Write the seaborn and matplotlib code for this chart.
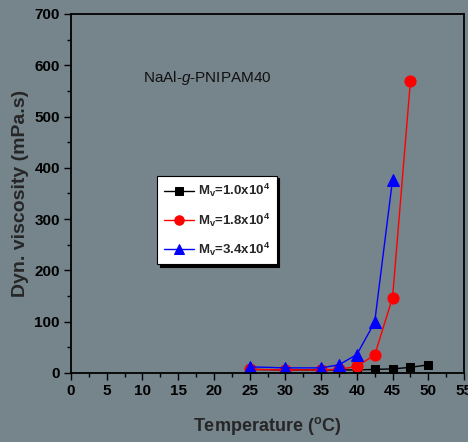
import matplotlib
matplotlib.use("Agg")
import matplotlib.pyplot as plt
import seaborn as sns
import pandas as pd
import numpy as np
from matplotlib.ticker import MultipleLocator

temps_1 = [25, 30, 35, 37.5, 40, 42.5, 45, 47.5, 50]
visc_1 = [7, 6, 6, 6, 6, 7, 8, 11, 16]
temps_2 = [25, 30, 35, 37.5, 40, 42.5, 45, 47.5]
visc_2 = [7, 6, 6, 7, 13, 35, 147, 569]
temps_3 = [25, 30, 35, 37.5, 40, 42.5, 45]
visc_3 = [12, 10, 10, 16, 36, 99, 377]

labels = [r"$\mathbf{M_v}$=1.0x10$^\mathbf{4}$",
          r"$\mathbf{M_v}$=1.8x10$^\mathbf{4}$",
          r"$\mathbf{M_v}$=3.4x10$^\mathbf{4}$"]

sns.set_theme(style="ticks")
plt.rcParams['font.family'] = ['Liberation Sans', 'DejaVu Sans']
plt.rcParams['mathtext.fontset'] = 'custom'
plt.rcParams['mathtext.rm'] = 'Liberation Sans'
plt.rcParams['mathtext.bf'] = 'Liberation Sans:bold'
plt.rcParams['mathtext.it'] = 'Liberation Sans:italic'

bg = '#76848c'
df = pd.concat([
    pd.DataFrame({'T': temps_1, 'V': visc_1, 'S': labels[0]}),
    pd.DataFrame({'T': temps_2, 'V': visc_2, 'S': labels[1]}),
    pd.DataFrame({'T': temps_3, 'V': visc_3, 'S': labels[2]}),
])

fig = plt.figure(figsize=(4.68, 4.42), dpi=100, facecolor=bg)
ax = fig.add_axes([71/468, 69/442, 393/468, 359/442])
ax.set_facecolor(bg)

colors = ['black', 'red', 'blue']
markers = ['s', 'o', '^']
sizes = [6, 8, 8]
for lab, c, m, ms in zip(labels, colors, markers, sizes):
    sub = df[df['S'] == lab]
    sns.lineplot(data=sub, x='T', y='V', ax=ax, color=c, marker=m, markersize=ms,
                 markeredgecolor=c, linewidth=1, label=lab, sort=False)

ax.set_xlim(0, 55)
ax.set_ylim(0, 700)
ax.xaxis.set_major_locator(MultipleLocator(5))
ax.xaxis.set_minor_locator(MultipleLocator(2.5))
ax.yaxis.set_major_locator(MultipleLocator(100))
ax.yaxis.set_minor_locator(MultipleLocator(50))
ax.tick_params(which='major', direction='out', length=5, width=1, colors='black',
               labelsize=11, pad=3)
ax.tick_params(which='minor', direction='out', length=3, width=1, colors='black')
for lbl in ax.get_xticklabels() + ax.get_yticklabels():
    lbl.set_fontweight('bold')
for s in ax.spines.values():
    s.set_color('black')
    s.set_linewidth(1.3)

ax.set_xlabel(r"Temperature ($^\mathbf{o}$C)", fontsize=13, fontweight='bold', labelpad=12)
ax.set_ylabel("Dyn. viscosity (mPa.s)", fontsize=14, fontweight='bold', labelpad=4)
ax.text(0.183, 0.822, r"NaAl-$\mathit{g}$-PNIPAM40", transform=ax.transAxes,
        fontsize=11, color='#111111', va='center', ha='left')

leg = ax.legend(loc='upper left', bbox_to_anchor=(0.219, 0.55), frameon=True,
                fancybox=False, shadow={'color': 'black', 'alpha': 1},
                prop={'weight': 'bold', 'size': 9.5}, handlelength=2.3,
                borderpad=0.5, labelspacing=0.9, handletextpad=0.3,
                borderaxespad=0, markerscale=0.85,
                edgecolor='black', framealpha=1)
leg.get_frame().set_linewidth(0.8)

fig.savefig('out.png', dpi=100, facecolor=bg)
